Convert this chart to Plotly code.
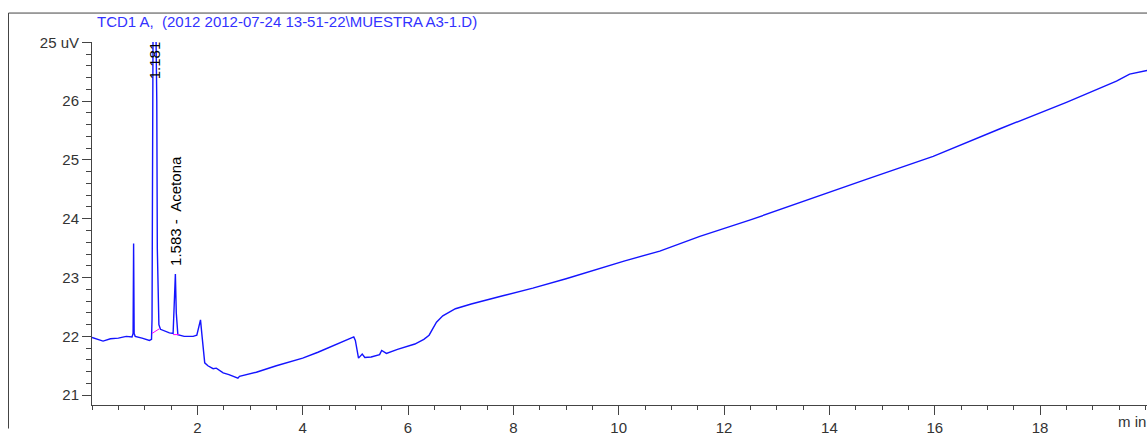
import plotly.graph_objects as go

# ---- data ----
time_min = [0.00, 0.10, 0.21, 0.35, 0.50, 0.65, 0.76, 0.78, 0.79, 0.80, 0.82, 0.95,
            1.09, 1.13, 1.14, 1.16, 1.181, 1.21, 1.23, 1.24, 1.27, 1.30, 1.35, 1.47,
            1.54, 1.565, 1.583, 1.60, 1.63, 1.75, 1.92, 1.99, 2.03, 2.06, 2.09, 2.14,
            2.20, 2.30, 2.36, 2.42, 2.49, 2.60, 2.70, 2.77, 2.80, 3.12, 3.50, 4.00,
            4.29, 4.60, 4.97, 5.00, 5.06, 5.13, 5.18, 5.30, 5.46, 5.50, 5.59, 5.80,
            6.13, 6.30, 6.40, 6.54, 6.66, 6.90, 7.20, 7.80, 8.37, 9.00, 9.51, 10.10,
            10.78, 11.54, 12.50, 13.44, 14.70, 15.97, 17.24, 18.50, 19.45, 19.70, 20.03]
signal_uv = [21.98, 21.95, 21.92, 21.96, 21.97, 22.00, 21.99, 22.05, 23.58, 22.05, 22.00, 21.97,
             21.93, 21.95, 22.30, 27.50, 32.00, 27.50, 26.00, 23.50, 22.20, 22.12, 22.10, 22.06,
             22.05, 22.50, 23.06, 22.40, 22.03, 22.00, 22.00, 22.02, 22.15, 22.28, 22.00, 21.55,
             21.50, 21.45, 21.46, 21.42, 21.38, 21.35, 21.32, 21.29, 21.32, 21.39, 21.50, 21.63,
             21.73, 21.85, 21.99, 21.93, 21.63, 21.70, 21.64, 21.65, 21.69, 21.76, 21.71, 21.78,
             21.87, 21.95, 22.02, 22.24, 22.35, 22.47, 22.55, 22.69, 22.82, 22.98, 23.12, 23.28,
             23.45, 23.70, 23.98, 24.28, 24.67, 25.06, 25.53, 25.98, 26.34, 26.46, 26.52]

# integration baselines (pink)
base1_t = [1.14, 1.28]
base1_v = [22.05, 22.13]
base2_t = [1.54, 1.66]
base2_v = [22.03, 22.03]

peak_times = [1.181, 1.583]
peak_labels = ["1.181", "1.583 -  Acetona"]

y_tickvals = [21, 22, 23, 24, 25, 26, 27]
y_ticktext = ["21", "22", "23", "24", "25", "26", "25 uV"]
x_tickvals = [2, 4, 6, 8, 10, 12, 14, 16, 18]

title_text = "TCD1 A,  (2012 2012-07-24 13-51-22\\MUESTRA A3-1.D)"

FONT = "Liberation Sans, Arial, sans-serif"
PW, PH = 1055, 370  # plot area size in px
L, T = 92, 42


def px_x(p):
    return (p - L) / PW


def px_y(p):
    return (T + PH - p) / PH


fig = go.Figure()
fig.add_trace(go.Scatter(x=time_min, y=signal_uv, mode="lines",
                         line=dict(color="rgb(20,20,255)", width=1.4),
                         hoverinfo="skip", showlegend=False))
for bt, bv in ((base1_t, base1_v), (base2_t, base2_v)):
    fig.add_trace(go.Scatter(x=bt, y=bv, mode="lines",
                             line=dict(color="rgb(255,0,255)", width=1),
                             hoverinfo="skip", showlegend=False))

# peak labels
fig.add_annotation(x=peak_times[0], y=px_y(39), xref="x", yref="paper", text=peak_labels[0],
                   textangle=-90, showarrow=False, xanchor="center", yanchor="top",
                   font=dict(family=FONT, size=15, color="black"))
fig.add_annotation(x=peak_times[1], y=23.17, xref="x", yref="y", text=peak_labels[1],
                   textangle=-90, showarrow=False, xanchor="center", yanchor="bottom",
                   font=dict(family=FONT, size=15, color="black"))

# title
fig.add_annotation(x=px_x(95), y=px_y(21), xref="paper", yref="paper",
                   text=title_text, showarrow=False, xanchor="left", yanchor="middle",
                   font=dict(family=FONT, size=15, color="rgb(50,50,255)"))
# x unit
fig.add_annotation(x=px_x(1116), y=px_y(429), xref="paper", yref="paper",
                   text="m in", showarrow=False, xanchor="left", yanchor="middle",
                   font=dict(family=FONT, size=15, color="#333"))

# outer frame
fig.add_shape(type="line", xref="paper", yref="paper",
              x0=px_x(8.5), x1=px_x(8.5), y0=px_y(436), y1=px_y(12.5),
              line=dict(color="#444", width=1))
fig.add_shape(type="line", xref="paper", yref="paper",
              x0=px_x(8.5), x1=1.0, y0=px_y(12.5), y1=px_y(12.5),
              line=dict(color="#444", width=1))

fig.update_layout(
    width=1147, height=436,
    margin=dict(l=L, r=1147 - L - PW, t=T, b=436 - T - PH),
    paper_bgcolor="white", plot_bgcolor="white",
    font=dict(family=FONT, size=15, color="#333"),
    xaxis=dict(range=[0, 20.03], tickmode="array", tickvals=x_tickvals,
               showgrid=False, zeroline=False, showline=True, linecolor="#444", linewidth=1,
               ticks="outside", ticklen=9, tickcolor="#444",
               minor=dict(tickmode="linear", tick0=0, dtick=0.5, ticks="outside",
                          ticklen=4, tickcolor="#444", showgrid=False),
               tickfont=dict(family=FONT, size=15, color="#333")),
    yaxis=dict(range=[20.833, 27.005], tickmode="array", tickvals=y_tickvals,
               ticktext=y_ticktext,
               showgrid=False, zeroline=False, showline=True, linecolor="#444", linewidth=1,
               ticks="outside", ticklen=9, tickcolor="#444",
               minor=dict(tickmode="linear", tick0=21, dtick=0.2, ticks="outside",
                          ticklen=5, tickcolor="#444", showgrid=False),
               tickfont=dict(family=FONT, size=15, color="#333")),
)

fig.write_html("out.html", config={"displayModeBar": False},
               post_script="document.body.style.margin='0';document.body.style.overflow='hidden';")
